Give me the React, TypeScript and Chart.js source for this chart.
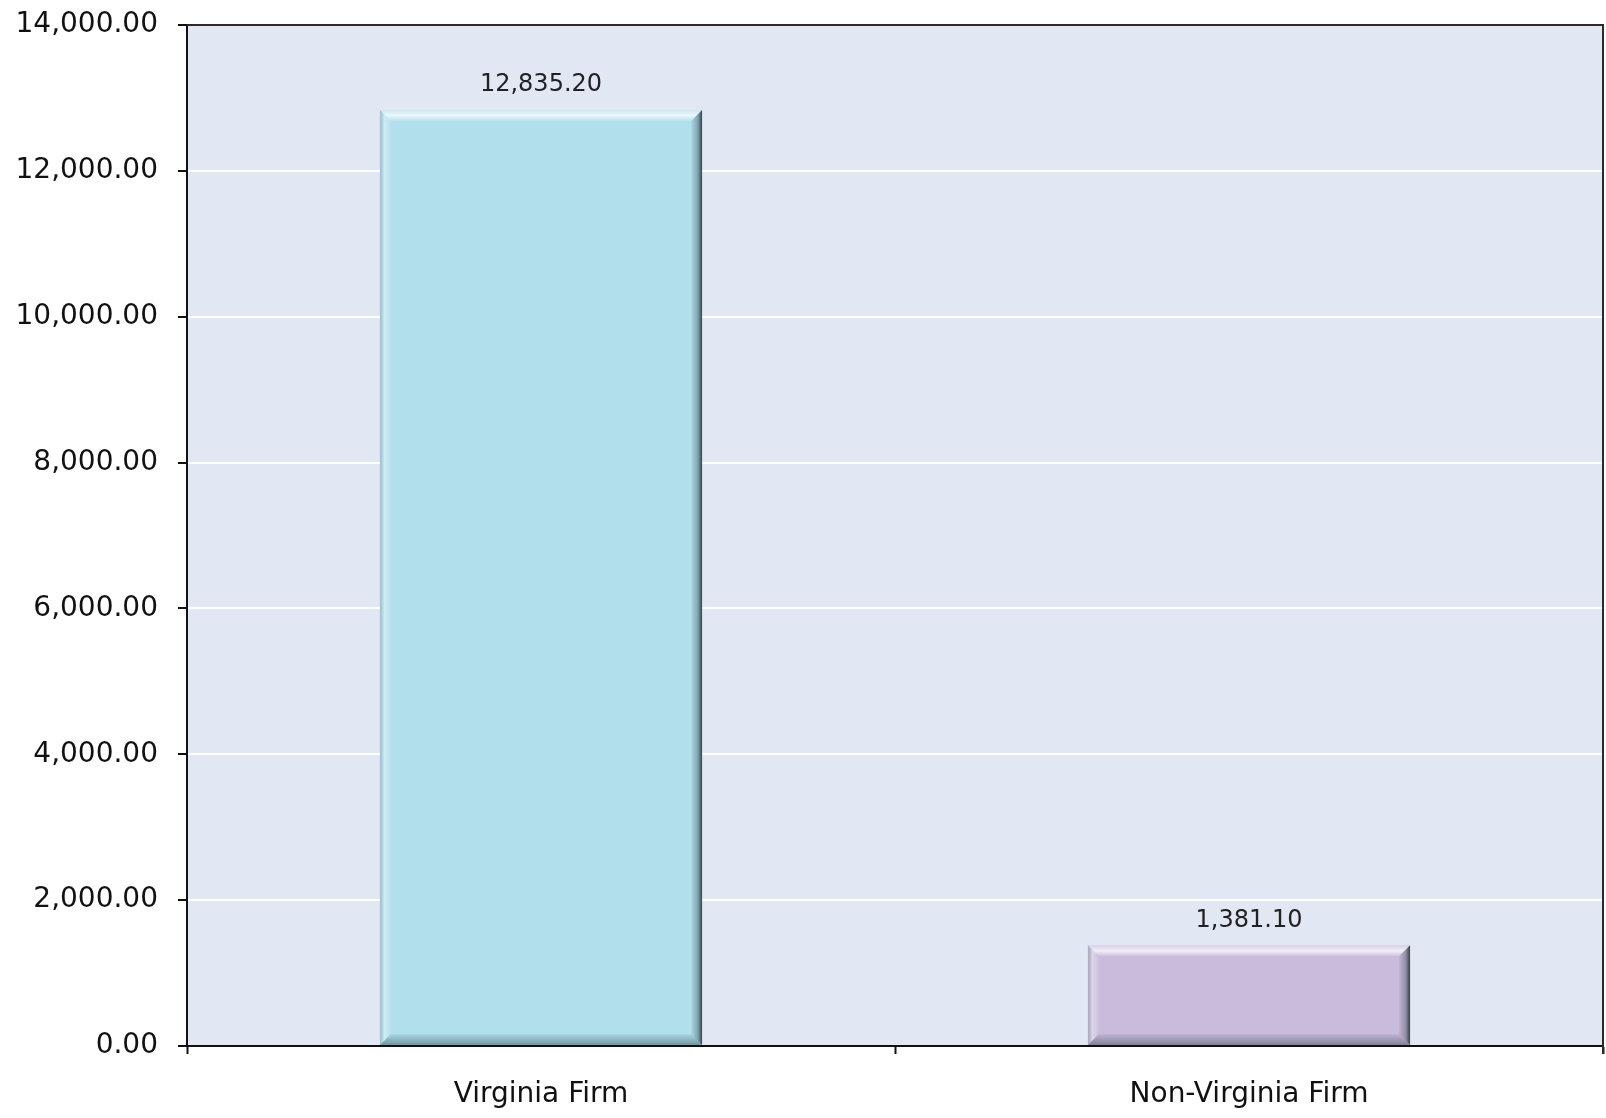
import React, { useEffect, useRef } from "react";
import { Chart, registerables } from "chart.js";

Chart.register(...registerables);

const categories = ["Virginia Firm", "Non-Virginia Firm"];
const values = [12835.2, 1381.1];
const barColors = ["#B1DFEC", "#C9BBDC"];
const yTickMax = 14000;
const yTickStep = 2000;

const fmt = (v: number) =>
  v.toLocaleString("en-US", { minimumFractionDigits: 2, maximumFractionDigits: 2 });

const FONT = "'DejaVu Sans', sans-serif";

const bgPlugin = {
  id: "bgPlugin",
  beforeDraw(chart: any) {
    const { ctx, chartArea: a } = chart;
    ctx.save();
    ctx.fillStyle = "#E1E7F3";
    ctx.fillRect(a.left, a.top, a.right - a.left, a.bottom - a.top);
    ctx.restore();
  },
  afterDraw(chart: any) {
    const { ctx, chartArea: a } = chart;
    ctx.save();
    ctx.strokeStyle = "#2a2a2a";
    ctx.lineWidth = 2;
    ctx.beginPath();
    ctx.moveTo(a.left, a.top);
    ctx.lineTo(a.right, a.top);
    ctx.lineTo(a.right, a.bottom + 8);
    ctx.stroke();
    ctx.restore();
  },
};

const bevelPlugin = {
  id: "bevelPlugin",
  afterDatasetsDraw(chart: any) {
    const { ctx } = chart;
    const meta = chart.getDatasetMeta(0);
    meta.data.forEach((bar: any, i: number) => {
      const { x, y, base, width } = bar.getProps(["x", "y", "base", "width"], true);
      const l = x - width / 2;
      const r = x + width / 2;
      const t = y;
      const b = base;
      const d = 11;
      ctx.save();
      // top highlight
      let g = ctx.createLinearGradient(0, t, 0, t + d);
      g.addColorStop(0, "rgba(255,255,255,0.3)");
      g.addColorStop(0.5, "rgba(255,255,255,0.75)");
      g.addColorStop(1, "rgba(255,255,255,0.1)");
      ctx.fillStyle = g;
      ctx.beginPath();
      ctx.moveTo(l, t);
      ctx.lineTo(r, t);
      ctx.lineTo(r - d, t + d);
      ctx.lineTo(l + d, t + d);
      ctx.closePath();
      ctx.fill();
      // left highlight
      g = ctx.createLinearGradient(l, 0, l + d, 0);
      g.addColorStop(0, "rgba(90,110,120,0.25)");
      g.addColorStop(0.4, "rgba(255,255,255,0.4)");
      g.addColorStop(1, "rgba(255,255,255,0.05)");
      ctx.fillStyle = g;
      ctx.beginPath();
      ctx.moveTo(l, t);
      ctx.lineTo(l + d, t + d);
      ctx.lineTo(l + d, b - d);
      ctx.lineTo(l, b);
      ctx.closePath();
      ctx.fill();
      // right shadow
      g = ctx.createLinearGradient(r - d, 0, r, 0);
      g.addColorStop(0, "rgba(40,60,70,0.05)");
      g.addColorStop(0.6, "rgba(40,60,70,0.35)");
      g.addColorStop(1, "rgba(30,40,45,0.85)");
      ctx.fillStyle = g;
      ctx.beginPath();
      ctx.moveTo(r, t);
      ctx.lineTo(r, b);
      ctx.lineTo(r - d, b - d);
      ctx.lineTo(r - d, t + d);
      ctx.closePath();
      ctx.fill();
      // bottom shadow
      g = ctx.createLinearGradient(0, b - d, 0, b);
      g.addColorStop(0, "rgba(40,60,70,0.05)");
      g.addColorStop(1, "rgba(40,60,70,0.45)");
      ctx.fillStyle = g;
      ctx.beginPath();
      ctx.moveTo(l, b);
      ctx.lineTo(r, b);
      ctx.lineTo(r - d, b - d);
      ctx.lineTo(l + d, b - d);
      ctx.closePath();
      ctx.fill();
      // data label
      ctx.fillStyle = "#222";
      ctx.font = `24px ${FONT}`;
      ctx.textAlign = "center";
      ctx.textBaseline = "bottom";
      ctx.fillText(fmt(values[i]), x, t - 13);
      ctx.restore();
    });
  },
};

export default function App() {
  const ref = useRef<HTMLCanvasElement>(null);
  useEffect(() => {
    document.body.style.margin = "0";
    const chart = new Chart(ref.current!, {
      type: "bar",
      data: {
        labels: categories,
        datasets: [
          {
            data: values,
            backgroundColor: barColors,
            borderWidth: 0,
            barPercentage: 0.455,
            categoryPercentage: 1,
          },
        ],
      },
      plugins: [bgPlugin, bevelPlugin],
      options: {
        responsive: false,
        animation: false,
        layout: { padding: { top: 25, right: 3, left: 0, bottom: 0 } },
        plugins: { legend: { display: false }, tooltip: { enabled: false } },
        scales: {
          x: {
            grid: {
              drawOnChartArea: false,
              drawTicks: true,
              tickLength: 8,
              tickColor: "#111",
              tickWidth: 2,
              offset: true,
            },
            border: { color: "#111", width: 2 },
            ticks: {
              color: "#111",
              font: { family: FONT, size: 28 },
              padding: 24,
            },
            afterFit(scale: any) {
              scale.height = 72;
            },
          },
          y: {
            min: 0,
            max: yTickMax,
            ticks: {
              stepSize: yTickStep,
              color: "#111",
              font: { family: FONT, size: 28, lineHeight: 0.2 },
              padding: 20,
              callback: (v: any) => fmt(Number(v)),
            },
            grid: {
              color: "#FFFFFF",
              lineWidth: 2,
              tickColor: "#111",
              tickLength: 9,
              tickWidth: 2,
            },
            border: { color: "#111", width: 2 },
            afterFit(scale: any) {
              scale.width = 187;
            },
          },
        },
      },
    });
    return () => chart.destroy();
  }, []);
  return (
    <div style={{ position: "absolute", left: 0, top: 0, width: 1606, height: 1118, background: "#fff" }}>
      <canvas ref={ref} width={1606} height={1118} />
    </div>
  );
}
